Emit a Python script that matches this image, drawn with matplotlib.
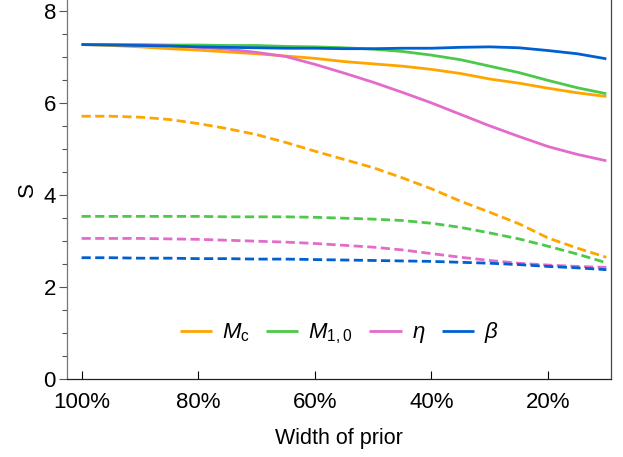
import matplotlib
matplotlib.use("Agg")
import matplotlib.pyplot as plt
from matplotlib.ticker import MultipleLocator, FuncFormatter

plt.rcParams['font.family'] = ['Liberation Sans', 'DejaVu Sans']
plt.rcParams['mathtext.fontset'] = 'custom'
plt.rcParams['mathtext.rm'] = 'Liberation Sans'
plt.rcParams['mathtext.it'] = 'Liberation Sans:italic'

# prior width (%) and S values, solid = first set, dashed = second set
width = [100, 95, 90, 85, 80, 75, 70, 65, 60, 55, 50, 45, 40, 35, 30, 25, 20, 15, 10]

mc_solid = [7.28, 7.26, 7.23, 7.19, 7.16, 7.12, 7.08, 7.03, 6.98, 6.91, 6.86, 6.81,
            6.74, 6.65, 6.53, 6.44, 6.33, 6.23, 6.15]
m10_solid = [7.28, 7.28, 7.28, 7.27, 7.27, 7.26, 7.26, 7.24, 7.23, 7.21, 7.18, 7.13,
             7.05, 6.95, 6.81, 6.67, 6.50, 6.34, 6.21]
eta_solid = [7.28, 7.28, 7.27, 7.25, 7.22, 7.18, 7.11, 7.02, 6.85, 6.66, 6.46, 6.24,
             6.01, 5.76, 5.51, 5.28, 5.06, 4.89, 4.75]
beta_solid = [7.28, 7.27, 7.26, 7.25, 7.23, 7.22, 7.21, 7.20, 7.20, 7.19, 7.19, 7.20,
              7.20, 7.22, 7.23, 7.21, 7.15, 7.08, 6.97]

mc_dash = [5.72, 5.72, 5.70, 5.65, 5.56, 5.45, 5.32, 5.15, 4.96, 4.78, 4.60, 4.38,
           4.14, 3.87, 3.63, 3.38, 3.07, 2.85, 2.65]
m10_dash = [3.54, 3.54, 3.54, 3.54, 3.54, 3.53, 3.53, 3.53, 3.52, 3.50, 3.48, 3.45,
            3.39, 3.30, 3.18, 3.05, 2.89, 2.72, 2.53]
eta_dash = [3.06, 3.06, 3.06, 3.05, 3.04, 3.02, 3.00, 2.98, 2.95, 2.91, 2.87, 2.81,
            2.73, 2.65, 2.58, 2.52, 2.48, 2.45, 2.43]
beta_dash = [2.64, 2.64, 2.63, 2.63, 2.62, 2.62, 2.61, 2.61, 2.60, 2.59, 2.58, 2.57,
             2.56, 2.54, 2.52, 2.49, 2.45, 2.42, 2.38]

labels = [r'$M_{\mathrm{c}}$', r'$M_{1,0}$', r'$\eta$', r'$\beta$']
colors = ['#FFA500', '#4CC94A', '#E36BCB', '#0060D0']

fig = plt.figure(figsize=(6.23, 4.57), dpi=100)
ax = fig.add_axes([67/623, 78/457, 544/623, 379/457])

solids = [mc_solid, m10_solid, eta_solid, beta_solid]
dashes = [mc_dash, m10_dash, eta_dash, beta_dash]
for s, d, c, lab in zip(solids, dashes, colors, labels):
    ax.plot(width, s, color=c, lw=2.0, label=lab, solid_capstyle='butt')
    ax.plot(width, d, color=c, lw=2.0, ls=(0, (3.3, 1.6)), dash_capstyle='butt')

ax.set_xlim(102.5, 9.2)
ax.set_ylim(0, 8.25)
ax.set_xticks([100, 80, 60, 40, 20])
ax.xaxis.set_major_formatter(FuncFormatter(lambda v, p: f'{int(v)}%'))
ax.yaxis.set_major_locator(MultipleLocator(2))
ax.yaxis.set_minor_locator(MultipleLocator(0.5))

ax.tick_params(axis='x', direction='in', length=6, width=0.8, pad=9, labelsize=16)
ax.tick_params(axis='y', which='major', direction='out', length=6, width=0.8,
               pad=2, labelsize=16, color='#555555')
ax.tick_params(axis='y', which='minor', direction='out', length=3.5, width=0.8,
               color='#555555')

ax.spines['top'].set_visible(False)
ax.spines['left'].set_color('#777777')
ax.spines['right'].set_color('#444444')
ax.spines['bottom'].set_color('#222222')
for sp in ax.spines.values():
    sp.set_linewidth(0.9)

ax.set_xlabel('Width of prior', fontsize=15.5, labelpad=11)
ax.set_ylabel('S', fontsize=16, labelpad=4)

ax.legend(loc='center', bbox_to_anchor=(0.5, 0.121), ncol=4, frameon=False,
          fontsize=16, handlelength=1.45, handletextpad=0.45, columnspacing=0.75)

fig.savefig('out.png', dpi=100)
